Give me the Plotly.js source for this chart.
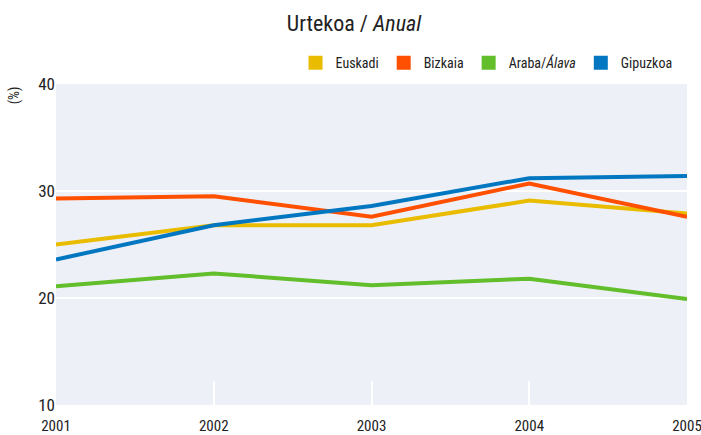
<!DOCTYPE html>
<html>
<head>
<meta charset="utf-8">
<script src="https://cdn.plot.ly/plotly-3.0.1.min.js"></script>
<style>html,body{margin:0;padding:0;background:#fff;}#chart{width:701px;height:435px;}</style>
</head>
<body>
<div id="chart"></div>
<script>
var years = [2001, 2002, 2003, 2004, 2005];
var seriesNames = ["Euskadi", "Bizkaia", "Araba/<i>Álava</i>", "Gipuzkoa"];
var euskadi = [25.0, 26.8, 26.8, 29.1, 27.9];
var bizkaia = [29.3, 29.5, 27.6, 30.7, 27.6];
var araba = [21.1, 22.3, 21.2, 21.8, 19.9];
var gipuzkoa = [23.6, 26.8, 28.6, 31.2, 31.4];
var colors = ["#E9BC00", "#FF4F00", "#62BE2A", "#0077C0"];
var values = [euskadi, bizkaia, araba, gipuzkoa];
var yTicks = [10, 20, 30, 40];

var FONT = "Roboto Condensed, Roboto, sans-serif";
var traces = [];
var order = [2, 0, 1, 3];
order.forEach(function(i){
  traces.push({
    x: years, y: values[i], type: "scatter", mode: "lines",
    line: {color: colors[i], width: 4},
    showlegend: false, hoverinfo: "skip"
  });
});
for (var i = 0; i < seriesNames.length; i++) {
  traces.push({
    x: [null], y: [null], type: "scatter", mode: "markers",
    name: seriesNames[i],
    marker: {symbol: "square", size: 14, color: colors[i]},
    showlegend: true
  });
}

var layout = {
  width: 701, height: 435,
  margin: {l: 56, r: 14, t: 84, b: 30},
  paper_bgcolor: "#ffffff",
  plot_bgcolor: "#EDF0F7",
  font: {family: FONT, color: "#222222", size: 14},
  title: {text: "Urtekoa / <i>Anual</i>", font: {family: FONT, size: 22, color: "#222"},
          x: 0.505, xanchor: "center", y: 1 - 23/435, yanchor: "middle", yref: "container"},
  showlegend: true,
  legend: {orientation: "h", x: 0.985, xanchor: "right", y: 1.015, yanchor: "bottom",
           font: {family: FONT, size: 14, color: "#222"}, itemwidth: 30, traceorder: "normal",
           bgcolor: "rgba(0,0,0,0)"},
  xaxis: {range: [2001, 2005], tickvals: years, ticktext: years.map(String),
          showgrid: false, zeroline: false, showline: false,
          ticks: "inside", ticklen: 24, tickwidth: 2, tickcolor: "#ffffff",
          ticklabelstandoff: 10, ticklabeloverflow: "allow",
          tickfont: {family: FONT, size: 15, color: "#222"}, fixedrange: true},
  yaxis: {range: [10, 40], tickvals: yTicks, ticktext: yTicks.map(String),
          showgrid: true, gridcolor: "#ffffff", gridwidth: 2, zeroline: false, showline: false,
          ticks: "", tickfont: {family: FONT, size: 17, color: "#222"}, fixedrange: true},
  annotations: [{text: "(%)", xref: "paper", yref: "paper", x: -0.066, y: 1.0, xanchor: "center", yanchor: "top",
                 textangle: -90, showarrow: false, font: {family: FONT, size: 14, color: "#222"}}]
};
Plotly.newPlot("chart", traces, layout, {displayModeBar: false, staticPlot: true});
</script>
</body>
</html>
